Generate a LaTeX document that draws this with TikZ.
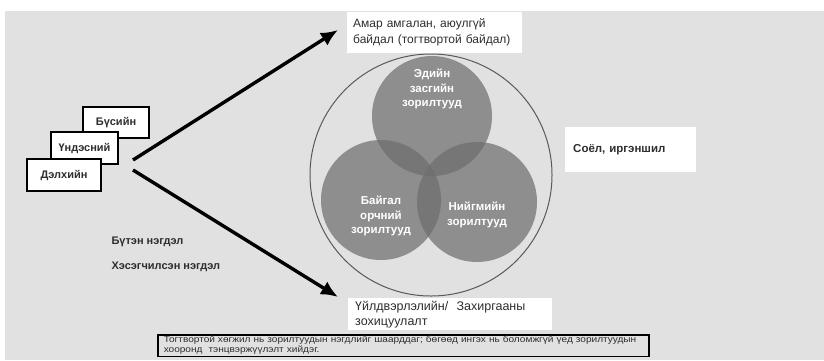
\documentclass[tikz,border=0pt]{standalone}
\usepackage{fontspec}
\setmainfont{Liberation Sans}
\newfontfamily\widesans[FakeStretch=1.12]{Liberation Sans}
\usepackage{tikz}
\usetikzlibrary{positioning, arrows.meta}
\definecolor{bggray}{HTML}{E1E1E1}
\definecolor{venngray}{HTML}{6E6E6E}
\definecolor{textgray}{HTML}{2E2E2E}

\begin{document}
\begin{tikzpicture}
                [
                x=1pt, y=-1pt,
                level/.style={rectangle,draw=black,line width=1.2pt,fill=white,inner sep=0pt,text=textgray,font=\bfseries\fontsize{11}{12}\selectfont},
                note/.style={rectangle,fill=white,anchor=north west,align=left,inner ysep=0pt,text=textgray,font=\fontsize{12}{16}\selectfont},
                goal/.style={circle,fill=venngray,fill opacity=0.72,minimum size=120pt,inner sep=0pt},
                goaltext/.style={align=center,text=white,font=\bfseries\fontsize{11.5}{14.5}\selectfont},
                union/.style={anchor=west,text=textgray,font=\bfseries\fontsize{11}{13}\selectfont},
                edge/.style={->,line width=3.4pt,> = {Latex[length=17pt,width=15pt]}}
                ]
            \useasboundingbox (0,0) rectangle (824,360);
            \fill[bggray] (5,11) rectangle (824,360);
            \node[level,minimum width=66pt,minimum height=31pt] (region) at (116,122.5) {Бүсийн};
            \node[level,minimum width=67pt,minimum height=32pt] (nation) at (84.5,148) {Үндэсний};
            \node[level,minimum width=74pt,minimum height=32pt] (world) at (64,175) {Дэлхийн};
            \node[union] (full) at (108,242) {Бүтэн нэгдэл};
            \node[union] (part) at (108,267) {Хэсэгчилсэн нэгдэл};
            \node[note,text width=168pt,inner xsep=3.5pt,minimum height=41pt] (peace) at (347,12) {\hspace*{2.5pt}Амар амгалан, аюулгүй\\\hspace*{2.5pt}байдал (тогтвортой байдал)};
            \node[note,text width=190pt,inner xsep=7pt,minimum height=32pt,font=\fontsize{12.5}{15}\selectfont] (govern) at (348,298) {Үйлдвэрлэлийн/\ \ Захиргааны\\зохицуулалт};
            \node[note,text width=115pt,inner xsep=8pt,minimum height=45pt,font=\bfseries\fontsize{11.5}{14}\selectfont] (culture) at (565,127) {Соёл, иргэншил};
            \node[circle,draw=black!65,line width=1pt,minimum size=242pt,inner sep=0pt] (whole) at (431,175) {};
            \node[goal] (econ) at (432,116) {};
            \node[goal] (nature) at (381,200) {};
            \node[goal] (social) at (477,202) {};
            \node[goaltext] (econtext) at (432,89) {Эдийн\\засгийн\\зорилтууд};
            \node[goaltext] (naturetext) at (381,216) {Байгал\\орчний\\зорилтууд};
            \node[goaltext] (socialtext) at (477,215) {Нийгмийн\\зорилтууд};
            \node[rectangle,draw=black,line width=1.5pt,anchor=north west,text width=479pt,inner xsep=6pt,inner ysep=1.5pt,align=left,text=textgray,font=\widesans\fontsize{9}{10}\selectfont] (summary) at (157,334) {Тогтвортой хөгжил нь зорилтуудын нэгдлийг шаарддаг; бөгөөд ингэх нь боломжгүй үед зорилтуудын\\хооронд\ \ тэнцвэржүүлэлт хийдэг.};
            \coordinate (fork1) at (133,160);
            \coordinate (fork2) at (133,170);
            \coordinate (tip1) at (338,30);
            \coordinate (tip2) at (338,297);
            \draw[edge] (fork1) -- (tip1);
            \draw[edge] (fork2) -- (tip2);
            \end{tikzpicture}
\end{document}
